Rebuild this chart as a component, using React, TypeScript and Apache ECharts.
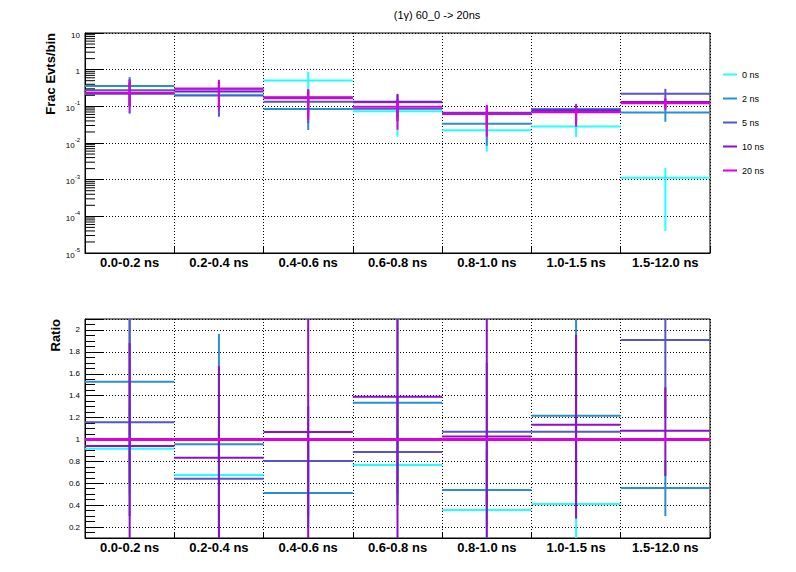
import React, { useEffect, useRef } from 'react';
import * as echarts from 'echarts';

// ---------- data ----------
const categories = ['0.0-0.2 ns', '0.2-0.4 ns', '0.4-0.6 ns', '0.6-0.8 ns', '0.8-1.0 ns', '1.0-1.5 ns', '1.5-12.0 ns'];
const seriesNames = ['0 ns', '2 ns', '5 ns', '10 ns', '20 ns'];
const seriesColors = ['#22ffff', '#2b8fcf', '#5555cc', '#8a0fcf', '#dd00dd'];

// top panel: fraction of events per bin, with error-bar low / high ends
const frac0 = [0.216, 0.207, 0.507, 0.074, 0.0221, 0.028, 0.00113];
const frac0Lo = [0.061, 0.08, 0.2, 0.0149, 0.0058, 0.0144, 0.00004];
const frac0Hi = [0.4, 0.4, 0.876, 0.13, 0.05, 0.05, 0.0021];

const frac2 = [0.36, 0.293, 0.085, 0.129, 0.0335, 0.084, 0.068];
const frac2Lo = [0.1, 0.1, 0.0226, 0.04, 0.0084, 0.04, 0.038];
const frac2Hi = [0.63, 0.5, 0.2, 0.2, 0.07, 0.11, 0.12];

const frac5 = [0.275, 0.196, 0.134, 0.0857, 0.0666, 0.074, 0.22];
const frac5Lo = [0.1, 0.052, 0.035, 0.04, 0.025, 0.035, 0.12];
const frac5Hi = [0.55, 0.45, 0.25, 0.15, 0.1, 0.117, 0.3];

const frac10 = [0.223, 0.255, 0.178, 0.134, 0.0639, 0.078, 0.132];
const frac10Lo = [0.1, 0.1, 0.06, 0.05, 0.03, 0.04, 0.09];
const frac10Hi = [0.45, 0.45, 0.28, 0.219, 0.1, 0.1, 0.16];

const frac20 = [0.233, 0.306, 0.167, 0.0967, 0.0622, 0.069, 0.122];
const frac20Lo = [0.065, 0.08, 0.043, 0.023, 0.015, 0.028, 0.08];
const frac20Hi = [0.53, 0.53, 0.295, 0.157, 0.11, 0.105, 0.165];

// bottom panel: ratio to 20 ns, with error-bar low / high ends
const ratio0 = [0.914, 0.676, 3.04, 0.767, 0.355, 0.41, 0.0093];
const ratio0Lo = [0.5, 0.3, 2.5, 0.4, 0.1, 0.0, 0.0];
const ratio0Hi = [1.3, 1.0, 3.6, 1.1, 0.6, 0.9, 0.02];

const ratio2 = [1.527, 0.957, 0.511, 1.335, 0.538, 1.216, 0.557];
const ratio2Lo = [0.6, 0.0, 0.2, 0.5, 0.2, 0.4, 0.3];
const ratio2Hi = [2.4, 1.964, 1.0, 2.2, 0.9, 2.4, 0.81];

const ratio5 = [1.158, 0.64, 0.804, 0.886, 1.07, 1.07, 1.909];
const ratio5Lo = [0.3, 0.2, 0.3, 0.4, 0.4, 0.5, 1.2];
const ratio5Hi = [2.6, 1.1, 1.3, 1.4, 1.7, 1.6, 2.6];

const ratio10 = [0.941, 0.832, 1.067, 1.39, 1.027, 1.134, 1.079];
const ratio10Lo = [-0.1, -0.1, -0.2, -0.1, -0.1, 0.277, 0.667];
const ratio10Hi = [1.88, 1.67, 2.4, 2.9, 2.2, 1.955, 1.476];

const ratio20 = [1, 1, 1, 1, 1, 1, 1];

// axis tick definitions
const logDecades = [1e-5, 1e-4, 1e-3, 1e-2, 1e-1, 1];
const logMinorMultipliers = [2, 3, 4, 5, 6, 7, 8, 9];

const FONT = '"Liberation Sans", Arial, Helvetica, sans-serif';

function binSeries(
  name: string,
  color: string,
  vals: number[],
  lo: number[],
  hi: number[],
  gridIdx: number,
  hWidth: number,
  z: number
) {
  return {
    type: 'custom',
    name,
    xAxisIndex: gridIdx,
    yAxisIndex: gridIdx,
    clip: true,
    silent: true,
    z,
    itemStyle: { color },
    encode: { x: 0, y: 1 },
    data: vals.map((v, i) => [i, v, lo[i], hi[i]]),
    renderItem: (params: any, api: any) => {
      const cs = params.coordSys;
      const w = cs.width / categories.length;
      const i = api.value(0);
      const xL = cs.x + i * w;
      const xc = xL + w / 2;
      const yV = api.coord([i, api.value(1)])[1];
      const yLo = api.coord([i, api.value(2)])[1];
      const yHi = api.coord([i, api.value(3)])[1];
      const children: any[] = [
        {
          type: 'line',
          shape: { x1: xL, y1: yV, x2: xL + w, y2: yV },
          style: { stroke: color, lineWidth: hWidth },
        },
      ];
      if (api.value(2) !== api.value(3)) {
        children.push({
          type: 'line',
          shape: { x1: xc, y1: yLo, x2: xc, y2: yHi },
          style: { stroke: color, lineWidth: 2 },
        });
      }
      return { type: 'group', children };
    },
  };
}

const dotted = { show: true, lineStyle: { color: '#000', width: 1, type: [1, 2] } };

function xAxisFor(gridIndex: number) {
  return {
    gridIndex,
    type: 'category',
    data: categories,
    boundaryGap: true,
    axisLine: { show: true, lineStyle: { color: '#000', width: 1 } },
    axisTick: { show: true, inside: true, length: 6, lineStyle: { color: '#000' } },
    axisLabel: { fontSize: 13, fontWeight: 'bold', color: '#000', fontFamily: FONT, margin: 3, interval: 0 },
    splitLine: dotted,
  };
}

export default function App() {
  const ref = useRef<HTMLDivElement>(null);

  useEffect(() => {
    const chart = echarts.init(ref.current!, null, { renderer: 'svg' });

    const minorTickValues = logDecades.flatMap((d) => logMinorMultipliers.map((m) => m * d));

    const topData = [
      [frac0, frac0Lo, frac0Hi],
      [frac2, frac2Lo, frac2Hi],
      [frac5, frac5Lo, frac5Hi],
      [frac10, frac10Lo, frac10Hi],
      [frac20, frac20Lo, frac20Hi],
    ];
    const ratioData = [
      [ratio0, ratio0Lo, ratio0Hi],
      [ratio2, ratio2Lo, ratio2Hi],
      [ratio5, ratio5Lo, ratio5Hi],
      [ratio10, ratio10Lo, ratio10Hi],
      [ratio20, ratio20, ratio20],
    ];

    const series: any[] = [];
    topData.forEach((d, k) => {
      series.push(binSeries(seriesNames[k], seriesColors[k], d[0], d[1], d[2], 0, 2, 2 + k * 0.01));
    });
    ratioData.forEach((d, k) => {
      series.push(
        binSeries(seriesNames[k] + ' ratio', seriesColors[k], d[0], d[1], d[2], 1, k === 4 ? 3 : 2, 2 + k * 0.01)
      );
    });
    series.push({
      type: 'custom',
      name: 'minor ticks',
      xAxisIndex: 0,
      yAxisIndex: 0,
      silent: true,
      z: 3,
      encode: { x: 0, y: 1 },
      data: minorTickValues.map((v) => [0, v]),
      renderItem: (params: any, api: any) => {
        const cs = params.coordSys;
        const y = api.coord([0, api.value(1)])[1];
        return {
          type: 'line',
          shape: { x1: cs.x, y1: y, x2: cs.x + 10, y2: y },
          style: { stroke: '#000', lineWidth: 1 },
        };
      },
    });

    const option: any = {
      animation: false,
      backgroundColor: '#fff',
      textStyle: { fontFamily: FONT },
      grid: [
        { left: 85, top: 33, width: 625, height: 220, show: true, borderColor: '#000', borderWidth: 1, backgroundColor: 'transparent' },
        { left: 85, top: 319, width: 625, height: 219, show: true, borderColor: '#000', borderWidth: 1, backgroundColor: 'transparent' },
      ],
      xAxis: [xAxisFor(0), xAxisFor(1)],
      yAxis: [
        {
          gridIndex: 0,
          type: 'log',
          logBase: 10,
          min: 1e-5,
          max: 10,
          axisLine: { show: true, lineStyle: { color: '#000', width: 1 } },
          axisTick: { show: true, inside: true, length: 19, lineStyle: { color: '#000' } },
          splitLine: dotted,
          axisLabel: {
            color: '#000',
            fontFamily: FONT,
            fontSize: 8,
            margin: 5,
            formatter: (v: number) => {
              const e = Math.round(Math.log10(v));
              if (e === 1) return '{b|10}';
              if (e === 0) return '{b|1}';
              return '{b|10}{s|' + e + '}';
            },
            rich: {
              b: { fontSize: 8, color: '#000', fontFamily: FONT, verticalAlign: 'bottom', lineHeight: 12 },
              s: { fontSize: 6, color: '#000', fontFamily: FONT, verticalAlign: 'top', lineHeight: 12 },
            },
          },
        },
        {
          gridIndex: 1,
          type: 'value',
          min: 0.1,
          max: 2.1,
          splitNumber: 10,
          axisLine: { show: true, lineStyle: { color: '#000', width: 1 } },
          axisTick: { show: true, inside: true, length: 19, lineStyle: { color: '#000' } },
          minorTick: { show: true, splitNumber: 4, length: 10, lineStyle: { color: '#000' } },
          splitLine: dotted,
          axisLabel: { color: '#000', fontFamily: FONT, fontSize: 8, margin: 5, showMinLabel: false, showMaxLabel: false },
        },
      ],
      legend: {
        orient: 'vertical',
        left: 718,
        top: 65,
        itemWidth: 14,
        itemHeight: 2,
        itemGap: 15,
        icon: 'rect',
        selectedMode: false,
        data: seriesNames,
        textStyle: { fontSize: 9, color: '#000', fontFamily: FONT },
      },
      graphic: [
        {
          type: 'text',
          x: 437,
          y: 15,
          style: { text: '(1\u03b3) 60_0 -> 20ns', fill: '#000', font: '11px ' + FONT, textAlign: 'center', textVerticalAlign: 'middle' },
        },
        {
          type: 'text',
          x: 50,
          y: 33,
          rotation: Math.PI / 2,
          style: { text: 'Frac Evts/bin', fill: '#000', font: 'bold 13px ' + FONT, textAlign: 'right', textVerticalAlign: 'middle' },
        },
        {
          type: 'text',
          x: 55,
          y: 319,
          rotation: Math.PI / 2,
          style: { text: 'Ratio', fill: '#000', font: 'bold 13px ' + FONT, textAlign: 'right', textVerticalAlign: 'middle' },
        },
      ],
      series,
    };

    chart.setOption(option);
    return () => chart.dispose();
  }, []);

  return (
    <div
      ref={ref}
      style={{ position: 'fixed', left: 0, top: 0, width: 796, height: 572, background: '#fff' }}
    />
  );
}
